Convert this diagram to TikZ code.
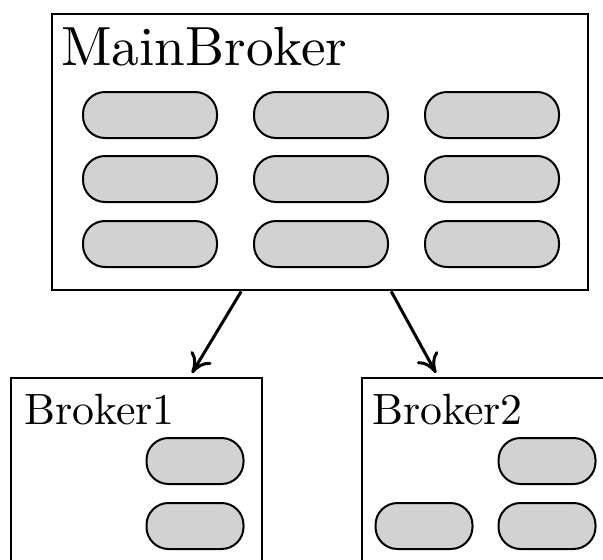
\documentclass[tikz,border=0pt]{standalone}
\usepackage{fontspec}
\newfontfamily\tenrm{lmroman10-regular.otf}
\usetikzlibrary{positioning, calc, arrows.meta}

\tikzset{
    brokerbox/.style={draw, line width=2.4pt, rectangle, anchor=north west, inner sep=0pt},
    queue/.style={draw, line width=2pt, fill=gray!35, rectangle, rounded corners=22pt,
        minimum height=46pt, inner sep=0pt},
    mainq/.style={queue, minimum width=134pt},
    subq/.style={queue, minimum width=97pt},
    link/.style={line width=3pt, -{Computer Modern Rightarrow[length=19pt,width=24pt]}}
}

\begin{document}
\begin{tikzpicture}[x=1pt, y=-1pt]

    \useasboundingbox (0,0) rectangle (603,560);
    \clip (0,0) rectangle (603,560);

    % ---------------------------------------------------
    % Main broker
    % ---------------------------------------------------
    \node[brokerbox, minimum width=536pt, minimum height=276pt] (main) at (51,13) {};
    \node[anchor=base west, inner sep=0pt, font=\tenrm\fontsize{55.2}{60}\selectfont]
        (maintitle) at (61,65) {MainBroker};

    \foreach \col/\x in {1/150, 2/321, 3/492} {
        \foreach \row/\y in {1/115, 2/179, 3/244} {
            \node[mainq] (q\col\row) at (\x,\y) {};
        }
    }

    % ---------------------------------------------------
    % Broker1
    % ---------------------------------------------------
    \node[brokerbox, minimum width=251pt, minimum height=240pt] (broker1) at (10,377) {};
    \node[anchor=base west, inner sep=0pt, font=\tenrm\fontsize{43.8}{48}\selectfont]
        (b1title) at (24,424) {Broker1};
    \node[subq] (b1q1) at (195,461) {};
    \node[subq] (b1q2) at (195,526) {};

    % ---------------------------------------------------
    % Broker2
    % ---------------------------------------------------
    \node[brokerbox, minimum width=290pt, minimum height=240pt] (broker2) at (361,377) {};
    \node[anchor=base west, inner sep=0pt, font=\tenrm\fontsize{43.8}{48}\selectfont]
        (b2title) at (372,424) {Broker2};
    \node[subq] (b2q1) at (547,461) {};
    \node[subq] (b2q2) at (424,526) {};
    \node[subq] (b2q3) at (547,526) {};

    % ---------------------------------------------------
    % Links
    % ---------------------------------------------------
    \draw[link] ([xshift=-79pt]main.south) -- ([xshift=182pt, yshift=4pt]broker1.north west);
    \draw[link] ([xshift=71pt]main.south) -- ([xshift=75pt, yshift=4pt]broker2.north west);

\end{tikzpicture}
\end{document}
